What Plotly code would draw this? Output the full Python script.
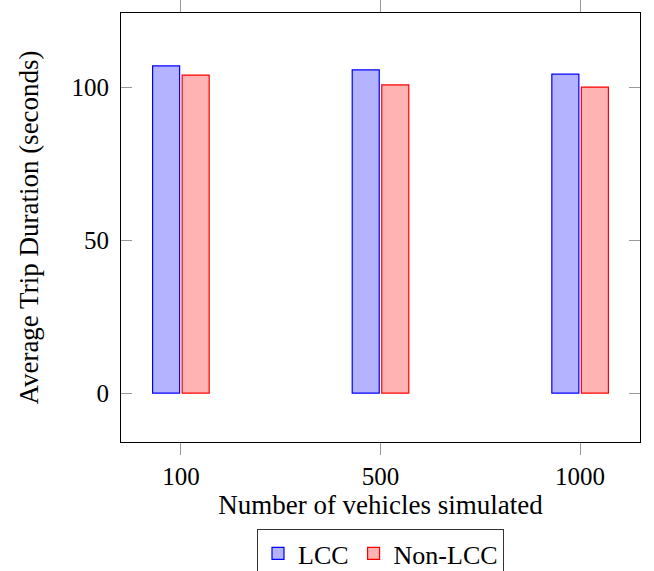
import plotly.graph_objects as go

categories = ["100", "500", "1000"]
lcc = [106.9, 105.6, 104.2]
non_lcc = [103.9, 100.7, 100.0]

FONT = "Liberation Serif"

fig = go.Figure()
fig.add_trace(go.Bar(name="LCC", x=categories, y=lcc,
                     marker=dict(color="rgb(179,179,255)", line=dict(color="blue", width=1.2))))
fig.add_trace(go.Bar(name="Non-LCC", x=categories, y=non_lcc,
                     marker=dict(color="rgb(255,179,179)", line=dict(color="red", width=1.2))))

fig.update_layout(
    width=654, height=571,
    margin=dict(l=121, r=14, t=13, b=129, autoexpand=False),
    plot_bgcolor="white", paper_bgcolor="white",
    barmode="group", bargap=0.704, bargroupgap=0.085,
    font=dict(family=FONT, size=25, color="black"),
    showlegend=True,
    legend=dict(orientation="h", xref="container", yref="container",
                x=380.5 / 654, xanchor="center", y=1 - 529 / 571, yanchor="top",
                bordercolor="#333", borderwidth=1, font=dict(family=FONT, size=26),
                itemwidth=30, tracegroupgap=0),
)
fig.update_xaxes(
    type="category", range=[-0.3, 2.3], automargin=False,
    showline=True, linecolor="black", linewidth=1, mirror="ticks",
    ticks="outside", ticklen=12, tickcolor="#999", tickwidth=1,
    showgrid=False,
    title=dict(text="Number of vehicles simulated", standoff=1,
               font=dict(family=FONT, size=27, color="black")),
)
fig.update_yaxes(
    range=[-16, 124.2], tickvals=[0, 50, 100], automargin=False,
    showline=True, linecolor="black", linewidth=1, mirror="ticks",
    ticks="inside", ticklen=11, tickcolor="#999", tickwidth=1,
    ticklabelstandoff=6,
    showgrid=False, zeroline=False,
    title=dict(text="Average Trip Duration (seconds)", standoff=25,
               font=dict(family=FONT, size=27, color="black")),
)

fig.write_html("out.html", config={"displayModeBar": False},
               post_script="document.body.style.margin='0px';")
